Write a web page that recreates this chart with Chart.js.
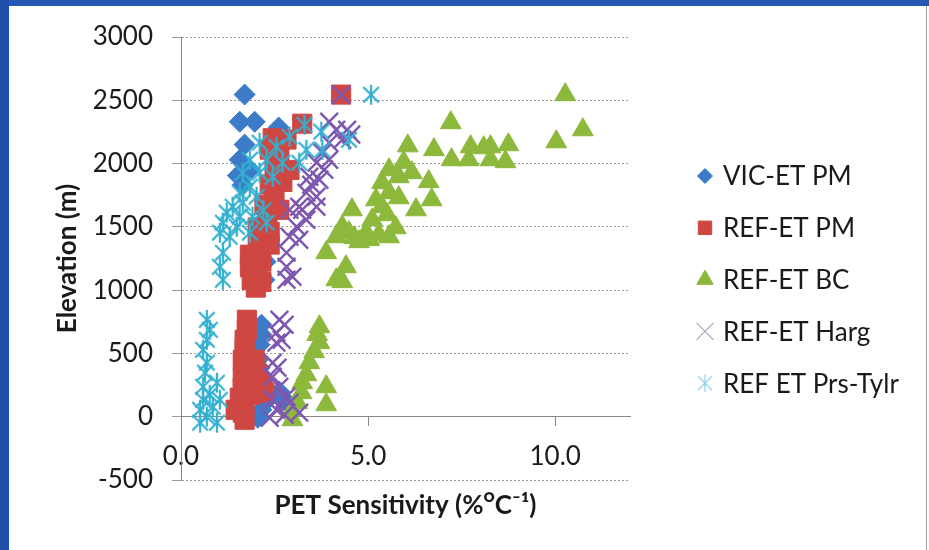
<!DOCTYPE html>
<html>
<head>
<meta charset="utf-8">
<script src="https://cdn.jsdelivr.net/npm/chart.js@4.4.0/dist/chart.umd.min.js"></script>
<style>
  html, body { margin: 0; padding: 0; background: #fff; }
  body { width: 929px; height: 550px; position: relative; overflow: hidden; }
  #topband { position: absolute; left: 0; top: 0; width: 929px; height: 6px; background: #2558b4; }
  #leftband { position: absolute; left: 0; top: 0; width: 9px; height: 550px; background: #1f4fa9; }
  #panel { position: absolute; left: 9px; top: 6px; width: 917px; height: 544px; background: #fff; border-right: 1px solid #a0a0a0; }
</style>
</head>
<body>
<div id="topband"></div>
<div id="leftband"></div>
<div id="panel"><canvas id="chart" width="917" height="544"></canvas></div>
<script>
const seriesNames = ['VIC-ET PM', 'REF-ET PM', 'REF-ET BC', 'REF-ET Harg', 'REF ET Prs-Tylr'];

// VIC-ET PM
const vicX = [1.70, 1.57, 1.97, 2.61, 1.70, 1.57, 1.52, 1.84, 1.65, 2.15, 2.26, 2.23,
  2.15, 2.15, 2.10, 2.05, 2.10, 2.15, 2.26, 2.37, 2.63, 2.90, 2.15, 2.05, 2.74];
const vicY = [2545, 2330, 2330, 2285, 2150, 2030, 1905, 1950, 1830, 1295, 1225, 1082,
  727, 648, 569, 450, 387, 308, 229, 150, 198, 95, 55, -8, 134];

// REF-ET PM
const pmX = [4.28, 3.24, 2.82, 2.63, 2.37, 2.50, 2.90, 2.71, 2.37, 2.50, 2.23, 2.63, 2.31, 2.05,
  2.37, 2.05, 2.37, 1.84, 2.15, 1.84, 1.89, 2.00, 2.15, 2.45,
  1.76, 1.76, 1.70, 1.70, 1.65, 1.70, 1.65, 1.65, 1.57, 1.70, 1.65, 1.70, 1.97, 1.89, 2.18, 2.23, 2.05, 1.46];
const pmY = [2545, 2315, 2190, 2070, 2110, 1990, 1950, 1855, 1835, 1715, 1675, 1635, 1555, 1495,
  1460, 1400, 1360, 1280, 1225, 1180, 1080, 1020, 1065, 2200,
  766, 687, 608, 529, 450, 387, 308, 229, 150, 95, 32, -24, 450, 174, 253, 190, 332, 55];

// REF-ET BC
const bcX = [10.27, 10.74, 10.03, 7.21, 6.76, 7.23, 7.74, 7.69, 8.09, 8.27, 8.75, 8.67, 8.27, 6.06, 5.95,
  5.56, 5.82, 5.37, 6.17, 6.62, 5.56, 5.21, 5.82, 5.37, 6.70, 6.28, 4.57, 5.51, 5.11, 4.31, 5.74,
  4.49, 4.95, 5.29, 5.56, 4.15, 4.76, 3.88, 4.41, 4.15, 4.31, 4.63, 5.03,
  3.70, 3.70, 3.56, 3.43, 3.35, 3.24, 3.22, 3.11, 2.98, 3.88, 3.88, 2.98, 3.64];
const bcY = [2544, 2267, 2172, 2323, 2110, 2030, 2133, 2030, 2125, 2133, 2149, 2015, 2030, 2140, 2010,
  1951, 1896, 1849, 1928, 1857, 1770, 1714, 1730, 1659, 1714, 1635, 1635, 1596, 1556, 1501, 1493,
  1454, 1454, 1438, 1422, 1422, 1383, 1296, 1185, 1082, 1067, 1415, 1400,
  711, 585, 514, 427, 332, 269, 190, 111, -24, 237, 95, 55, 650];

// REF-ET Harg
const hargX = [4.28, 4.15, 4.44, 3.96, 4.31, 3.78, 3.62, 3.96, 3.43, 3.70, 3.35, 3.62, 3.16, 2.90, 3.24,
  3.09, 3.35, 2.90, 3.16, 2.82, 2.82, 2.82, 2.98, 3.62, 3.48, 3.83, 3.96, 4.55,
  2.63, 2.77, 2.55, 2.69, 2.55, 2.45, 2.58, 2.45, 2.63, 2.82, 2.55, 3.16, 2.90, 2.45, 2.77, 2.37];
const hargY = [2544, 2267, 2267, 2165, 2188, 2086, 2007, 2030, 1896, 1872, 1770, 1738, 1659, 1635, 1635,
  1501, 1556, 1422, 1398, 1296, 1185, 1082, 1106, 1659, 1833, 1951, 2330, 2230,
  766, 727, 664, 608, 585, 427, 387, 316, 237, 158, 55, 32, 111, 134, 16, -8];

// REF ET Prs-Tylr
const ptX = [5.08, 3.30, 3.75, 4.49, 2.10, 2.55, 2.90, 3.35, 3.78, 1.84, 2.29, 2.71, 3.16, 1.65, 2.10,
  2.45, 1.84, 1.57, 2.02, 1.65, 1.38, 1.22, 1.57, 1.91, 1.12, 1.49, 2.29, 1.04, 1.30, 1.84, 1.12,
  1.04, 1.12, 2.20,
  0.69, 0.77, 0.69, 0.59, 0.69, 0.64, 0.59, 0.96, 1.04, 0.59, 0.51, 0.69, 0.51, 0.85, 0.96, 0.77];
const ptY = [2544, 2307, 2252, 2188, 2165, 2133, 2212, 2109, 2109, 2030, 2030, 2007, 2007, 1928, 1928,
  1896, 1817, 1770, 1738, 1691, 1659, 1612, 1580, 1580, 1533, 1501, 1533, 1454, 1422, 1454, 1296,
  1185, 1082, 1630,
  766, 687, 608, 529, 427, 348, 237, 269, 134, 134, 55, 0, -47, 79, -47, 174];

const FONT = 'Lato, "DejaVu Sans", sans-serif';
const colors = ['#3b7bc8', '#cf4743', '#8cb83c', '#7e57b0', '#33b0d0'];

function toPoints(xs, ys) {
  return xs.map((x, i) => ({ x: x, y: ys[i] }));
}

// Excel style asterisk: an X with a vertical bar
function asterisk(size, lw, color) {
  const c = document.createElement('canvas');
  c.width = size; c.height = size;
  const g = c.getContext('2d');
  const m = size / 2, r = size / 2 - 1, d = r * 0.78;
  g.strokeStyle = color;
  g.lineWidth = lw;
  g.beginPath();
  g.moveTo(m, m - r); g.lineTo(m, m + r);
  g.moveTo(m - d, m - d); g.lineTo(m + d, m + d);
  g.moveTo(m + d, m - d); g.lineTo(m - d, m + d);
  g.stroke();
  return c;
}

const starMark = asterisk(22, 2.2, colors[4]);
const starLegend = asterisk(20, 1.2, '#8fd3e6');

const datasets = [
  { data: toPoints(vicX, vicY), pointStyle: 'rectRot', pointRadius: 10.5, borderWidth: 1 },
  { data: toPoints(pmX, pmY), pointStyle: 'rect', pointRadius: 13.5, borderWidth: 1 },
  { data: toPoints(bcX, bcY), pointStyle: 'triangle', pointRadius: 12, borderWidth: 1 },
  { data: toPoints(hargX, hargY), pointStyle: 'crossRot', pointRadius: 12.5, borderWidth: 2.4 },
  { data: toPoints(ptX, ptY), pointStyle: starMark, pointRadius: 11, borderWidth: 1 }
].map((d, i) => ({
  label: seriesNames[i],
  data: d.data,
  order: 5 - i,
  pointStyle: d.pointStyle,
  pointRadius: d.pointRadius,
  pointHoverRadius: d.pointRadius,
  pointBackgroundColor: colors[i],
  pointBorderColor: colors[i],
  pointBorderWidth: d.borderWidth,
  showLine: false
}));

const legendMarks = [
  { style: 'rectRot', radius: 7.5, lw: 1, color: colors[0] },
  { style: 'rect', radius: 9.5, lw: 1, color: colors[1] },
  { style: 'triangle', radius: 9.5, lw: 1, color: colors[2] },
  { style: 'crossRot', radius: 12, lw: 1.1, color: '#a9a2bf' },
  { style: starLegend, radius: 10, lw: 1, color: '#8fd3e6' }
];

const sideLegend = {
  id: 'sideLegend',
  afterDraw(chart) {
    const ctx = chart.ctx;
    ctx.save();
    chart.data.datasets.forEach((ds, i) => {
      const y = 170 + i * 51.8;
      const m = legendMarks[i];
      ctx.fillStyle = m.color;
      ctx.strokeStyle = m.color;
      ctx.lineWidth = m.lw;
      Chart.helpers.drawPoint(ctx, { pointStyle: m.style, radius: m.radius, rotation: 0, borderWidth: m.lw }, 696, y);
      ctx.fillStyle = '#1a1a1a';
      ctx.font = '26px ' + FONT;
      ctx.textAlign = 'left';
      ctx.textBaseline = 'middle';
      ctx.fillText(ds.label, 714, y + 1);
    });
    ctx.restore();
  }
};

new Chart(document.getElementById('chart'), {
  type: 'scatter',
  data: { datasets: datasets },
  options: {
    responsive: false,
    animation: false,
    layout: { padding: { left: 0, top: 31, right: 296, bottom: 70 } },
    plugins: { legend: { display: false }, tooltip: { enabled: false } },
    scales: {
      x: {
        type: 'linear',
        position: { y: 0 },
        min: 0,
        max: 12,
        border: { display: true, color: '#868686', width: 1 },
        grid: { drawOnChartArea: false, drawTicks: true, tickLength: 9, color: '#868686' },
        ticks: {
          stepSize: 5,
          includeBounds: false,
          padding: 15,
          color: '#1a1a1a',
          font: { family: FONT, size: 26 },
          callback: v => v.toFixed(1)
        },
        title: {
          display: true,
          text: 'PET Sensitivity (%\u1D3CC\u207B\u00B9)',
          color: '#1a1a1a',
          font: { family: FONT, size: 26, weight: 'bold' },
          padding: { top: 0, bottom: 16 }
        },
        afterFit(scale) { scale.height = 120; }
      },
      y: {
        type: 'linear',
        min: -500,
        max: 3000,
        border: { display: true, color: '#868686', width: 1, dash: [2, 2] },
        grid: { color: '#9a9a9a', tickLength: 9 },
        ticks: {
          stepSize: 500,
          padding: 19,
          color: '#1a1a1a',
          font: { family: FONT, size: 26 },
          callback: v => String(v)
        },
        title: {
          display: true,
          text: 'Elevation (m)',
          color: '#1a1a1a',
          font: { family: FONT, size: 26, weight: 'bold' },
          padding: { top: 43, bottom: 0 }
        },
        afterFit(scale) {
          scale.width = 172;
          scale.paddingTop = 16;
          scale.paddingBottom = 16;
        }
      }
    }
  },
  plugins: [sideLegend]
});
</script>
</body>
</html>
